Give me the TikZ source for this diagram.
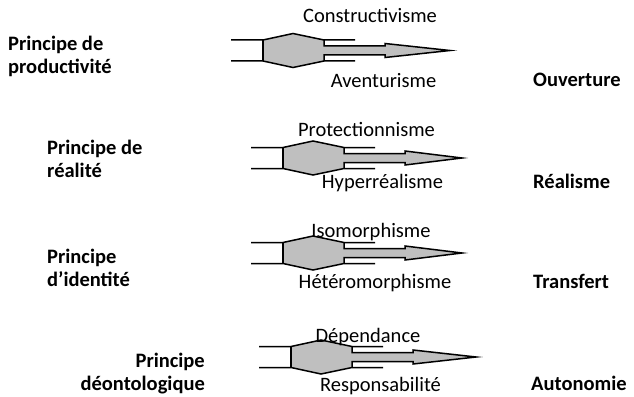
\documentclass[tikz,border=0pt]{standalone}
\usepackage{fontspec}
\setmainfont{Carlito}
\usetikzlibrary{positioning}

% double block with its arrow: left x, centre y, tip x
\newcommand\duoarrow[3]{%
  \fill[shapefill] ({#1+32},{#2-10.5}) -- ({#1+62},{#2-17}) -- ({#1+93},{#2-10.5}) -- ({#1+93},{#2+10.5}) -- ({#1+62},{#2+17}) -- ({#1+32},{#2+10.5}) -- cycle;
  \fill[shapefill] ({#1+92},{#2-4.5}) -- ({#1+154},{#2-4.5}) -- ({#1+154},{#2-7}) -- (#3,#2) -- ({#1+154},{#2+7}) -- ({#1+154},{#2+4.5}) -- ({#1+92},{#2+4.5}) -- cycle;
  \draw[shapeline] (#1,{#2-10.5}) -- ({#1+32},{#2-10.5}) -- ({#1+62},{#2-17}) -- ({#1+93},{#2-10.5}) -- ({#1+124},{#2-10.5});
  \draw[shapeline] (#1,{#2+10.5}) -- ({#1+32},{#2+10.5}) -- ({#1+62},{#2+17}) -- ({#1+93},{#2+10.5}) -- ({#1+124},{#2+10.5});
  \draw[shapeline] ({#1+32},{#2-10.5}) -- ({#1+32},{#2+10.5});
  \draw[shapeline] ({#1+93},{#2-10.5}) -- ({#1+93},{#2-4.5}) -- ({#1+154},{#2-4.5}) -- ({#1+154},{#2-7}) -- (#3,#2) -- ({#1+154},{#2+7}) -- ({#1+154},{#2+4.5}) -- ({#1+93},{#2+4.5}) -- ({#1+93},{#2+10.5});
}

\begin{document}
\begin{tikzpicture}[x=1pt, y=-1pt,
  shapefill/.style={fill=black!25},
  shapeline/.style={draw=black, line width=1.5pt},
  lbl/.style={inner sep=0pt, font=\fontsize{20.5}{23}\selectfont},
  principe/.style={lbl, align=left, font=\fontsize{20.5}{23}\selectfont\bfseries},
  mode/.style={lbl, font=\fontsize{20.5}{23}\selectfont\bfseries}]
  \useasboundingbox[fill=white] (0,0) rectangle (634,396);

  \duoarrow{231}{50.5}{450}
  \duoarrow{251}{158}{462}
  \duoarrow{251}{253}{462}
  \duoarrow{259}{357}{476}

  % row 1
  \node[principe, anchor=base west] (prod) at (8,74) {Principe de\\productivité};
  \node[lbl, anchor=base] (constr) at (370,23) {Constructivisme};
  \node[lbl, anchor=base] (avent) at (383.5,87) {Aventurisme};
  \node[mode, anchor=base west] (ouv) at (533,86) {Ouverture};

  % row 2
  \node[principe, anchor=base west] (real) at (47,177) {Principe de\\réalité};
  \node[lbl, anchor=base] (protec) at (366.5,136) {Protectionnisme};
  \node[lbl, anchor=base] (hyper) at (382.5,188) {Hyperréalisme};
  \node[mode, anchor=base west] (realis) at (533,188) {Réalisme};

  % row 3
  \node[principe, anchor=base west] (ident) at (47,286) {Principe\\d’identité};
  \node[lbl, anchor=base] (iso) at (371,237) {Isomorphisme};
  \node[lbl, anchor=base] (hetero) at (375,288) {Hétéromorphisme};
  \node[mode, anchor=base west] (transf) at (533,288) {Transfert};

  % row 4
  \node[principe, align=right, anchor=base east] (deont) at (205,390) {Principe\\déontologique};
  \node[lbl, anchor=base] (depend) at (368,342) {Dépendance};
  \node[lbl, anchor=base] (respon) at (380.5,391) {Responsabilité};
  \node[mode, anchor=base west] (auton) at (531,390) {Autonomie};
\end{tikzpicture}
\end{document}
